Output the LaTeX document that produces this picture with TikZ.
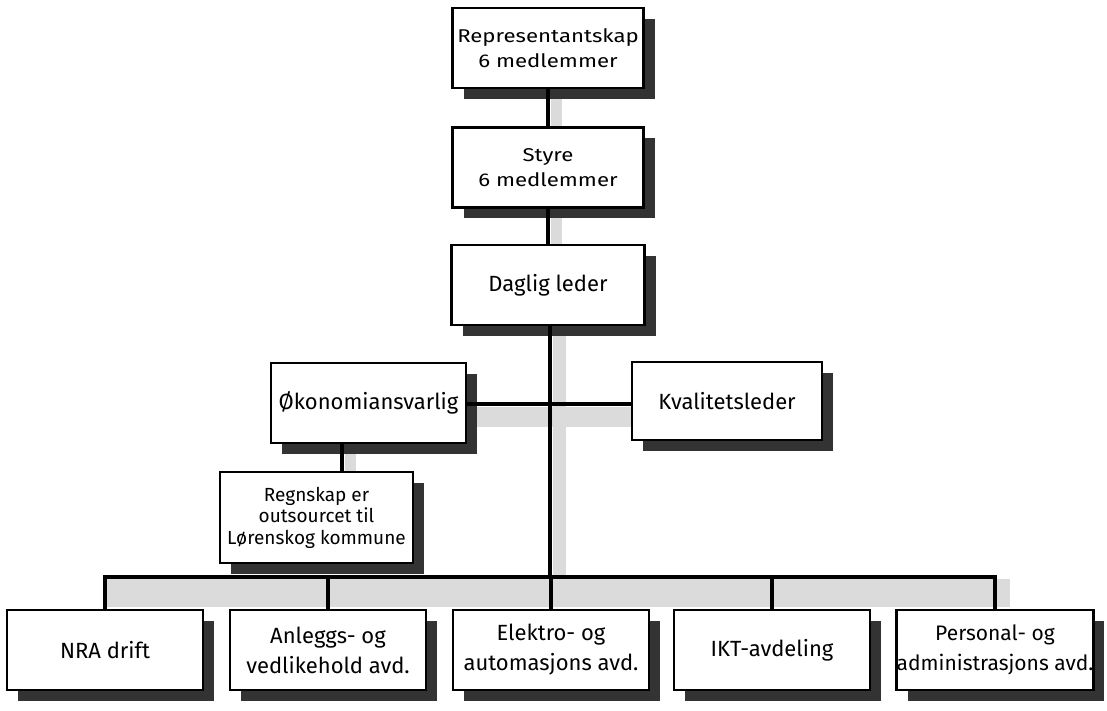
\documentclass[tikz,border=0pt]{standalone}
\usepackage{fontspec}
\setmainfont{Fira Sans}
\newfontfamily\widefira[FakeStretch=1.2]{Fira Sans}
\usetikzlibrary{shadows}
\begin{document}
\begin{tikzpicture}[x=1pt,y=-1pt,
  box/.style={draw=black,line width=2.6pt,fill=white,align=center,inner sep=0pt,
    drop shadow={shadow xshift=11pt,shadow yshift=-11pt,fill=black!80,opacity=1}},
  bigbox/.style={box,font=\fontsize{22}{30}\selectfont,minimum width=195pt,minimum height=80pt},
  smallbox/.style={box,font=\widefira\fontsize{18.5}{25}\selectfont,minimum width=191pt,minimum height=80pt},
  conn/.style={draw=black,line width=3.4pt},
  lineshade/.style={fill=black!14}]
\useasboundingbox (0,0) rectangle (1107,711);
\fill[white] (0,0) rectangle (1107,711);
% light shadows of connecting lines
\fill[lineshade] (553,325) rectangle (566,577);
\fill[lineshade] (466,407) rectangle (632,427);
\fill[lineshade] (104,579) rectangle (1010,607);
\fill[lineshade] (345,443) rectangle (356,472);
\fill[lineshade] (551,88) rectangle (562,127);
\fill[lineshade] (551,208) rectangle (562,245);
% boxes
\node[smallbox] (rep) at (548,48) {Representantskap\\6 medlemmer};
\node[smallbox] (sty) at (548,167.5) {Styre\\6 medlemmer};
\node[bigbox,minimum width=193pt] (dag) at (548,285) {Daglig leder};
\node[bigbox] (oko) at (368.5,403) {Økonomiansvarlig};
\node[bigbox,minimum width=190pt,minimum height=78pt] (kva) at (727,401) {Kvalitetsleder};
\node[box,font=\fontsize{19}{21.5}\selectfont,minimum width=193pt,minimum height=91pt] (reg) at (316.5,517.5) {Regnskap er\\outsourcet til\\Lørenskog kommune};
\node[bigbox,minimum width=196pt] (nra) at (105,650) {NRA drift};
\node[bigbox,minimum width=196pt] (anl) at (328,650) {Anleggs- og\\vedlikehold avd.};
\node[bigbox,minimum width=196pt] (ele) at (551,650) {Elektro- og\\automasjons avd.};
\node[bigbox,minimum width=196pt] (ikt) at (772,650) {IKT-avdeling};
\node[bigbox,minimum width=196pt,font=\fontsize{21}{30}\selectfont] (per) at (995,650) {Personal- og\\administrasjons avd.};
% helper coordinates
\coordinate (bus) at (0,577);
\coordinate (mx) at (550,0);
\coordinate (kx) at (342,0);
% connectors
\draw[conn] (rep.south) -- (sty.north);
\draw[conn] (sty.south) -- (dag.north);
\draw[conn] (dag.south -| mx) -- (bus -| mx);
\draw[conn] (oko.east |- 0,404) -- (kva.west |- 0,404);
\draw[conn] (oko.south -| kx) -- (reg.north -| kx);
\draw[conn] (nra.north) -- (nra.north |- bus) -- (per.north |- bus) -- (per.north);
\draw[conn] (anl.north) -- (anl.north |- bus);
\draw[conn] (ele.north) -- (ele.north |- bus);
\draw[conn] (ikt.north) -- (ikt.north |- bus);
\end{tikzpicture}
\end{document}
